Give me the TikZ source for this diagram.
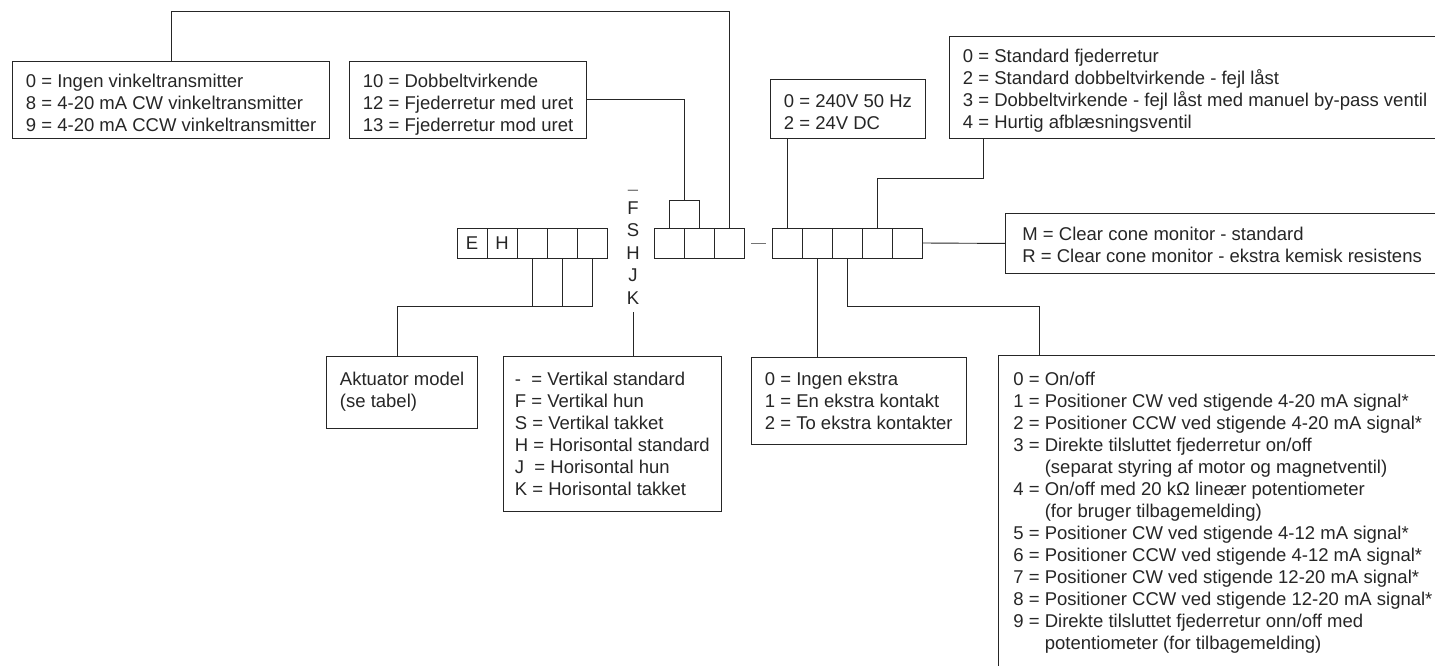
\documentclass[tikz,border=0pt]{standalone}
\usepackage{fontspec}
\setmainfont{Liberation Sans}
\usepackage{tikz}
\usetikzlibrary{calc,positioning}
\newcommand{\optindent}{\hphantom{0 = }}

\begin{document}
\begin{tikzpicture}[x=1pt,y=-1pt,font=\fontsize{18.5}{22}\selectfont,text=black!85]

\tikzset{cellnode/.style={draw=black!85,line width=0.9pt,minimum size=30pt,inner sep=0pt,outer sep=0pt},
boxnode/.style={draw=black!85,line width=0.9pt,anchor=north west,align=left,inner xsep=13.5pt,inner ysep=0pt},
letternode/.style={inner sep=0pt},
link/.style={draw=black!85,line width=0.9pt}}

\path[use as bounding box,clip] (0,0) rectangle (1435,666);

% code cells
\node[cellnode] (m1) at (472,243) {E};
\node[cellnode,right=0pt of m1] (m2) {H};
\foreach \i/\j in {2/3,3/4,4/5} \node[cellnode,right=0pt of m\i] (m\j) {};
\node[cellnode] (c1) at (669,243) {};
\foreach \i/\j in {1/2,2/3} \node[cellnode,right=0pt of c\i] (c\j) {};
\node[cellnode] (o1) at (787,243) {};
\foreach \i/\j in {1/2,2/3,3/4,4/5} \node[cellnode,right=0pt of o\i] (o\j) {};

% mounting letters
\node[letternode,text=black!55] (dashl) at (633,193) {--};
\foreach \ltr [count=\i] in {F,S,H,J,K} \node[letternode] (l\i) at (633,{208+22.5*(\i-1)}) {\ltr};

% option boxes, top row
\node[boxnode,text height=69.6pt,text depth=7.4pt] (angleBox) at (12,61) {0 = Ingen vinkeltransmitter\\8 = 4-20 mA CW vinkeltransmitter\\9 = 4-20 mA CCW vinkeltransmitter};
\node[boxnode,text height=69.6pt,text depth=7.4pt] (actBox) at (349,61) {10 = Dobbeltvirkende\\12 = Fjederretur med uret\\13 = Fjederretur mod uret};
\node[boxnode,text height=49.6pt,text depth=9.4pt] (voltBox) at (770,79) {0 = 240V 50 Hz\\2 = 24V DC};
\node[boxnode,text height=91.6pt,text depth=10.4pt] (failBox) at (949,36) {0 = Standard fjederretur\\2 = Standard dobbeltvirkende - fejl låst\\3 = Dobbeltvirkende - fejl låst med manuel by-pass ventil\\4 = Hurtig afblæsningsventil};
\node[boxnode,inner xsep=17pt,text height=48.6pt,text depth=11.4pt] (monBox) at (1005,213) {M = Clear cone monitor - standard\\R = Clear cone monitor - ekstra kemisk resistens};

% option boxes, bottom row
\node[boxnode,text height=50.6pt,text depth=21.4pt] (aktBox) at (326,356) {Aktuator model\\(se tabel)};
\node[boxnode,inner xsep=11.5pt,text height=138.6pt,text depth=16.4pt] (mountBox) at (503,356) {-\ \ = Vertikal standard\\F = Vertikal hun\\S = Vertikal takket\\H = Horisontal standard\\J\ \ = Horisontal hun\\K = Horisontal takket};
\node[boxnode,text height=71.6pt,text depth=15.4pt] (extraBox) at (751,357) {0 = Ingen ekstra\\1 = En ekstra kontakt\\2 = To ekstra kontakter};
\node[boxnode,inner xsep=15pt,text height=293.6pt,text depth=66pt] (ctrlBox) at (998,355) {0 = On/off\\1 = Positioner CW ved stigende 4-20 mA signal*\\2 = Positioner CCW ved stigende 4-20 mA signal*\\3 = Direkte tilsluttet fjederretur on/off\\\optindent(separat styring af motor og magnetventil)\\4 = On/off med 20 kΩ lineær potentiometer\\\optindent(for bruger tilbagemelding)\\5 = Positioner CW ved stigende 4-12 mA signal*\\6 = Positioner CCW ved stigende 4-12 mA signal*\\7 = Positioner CW ved stigende 12-20 mA signal*\\8 = Positioner CCW ved stigende 12-20 mA signal*\\9 = Direkte tilsluttet fjederretur onn/off med\\\optindent potentiometer (for tilbagemelding)};

% connectors
\draw[link] (angleBox.north) -- ++(0,-49.3) -| (c3.north);
\coordinate (brk) at ($(c1.north)!0.5!(c2.north)+(0,-27.6)$);
\draw[link] (c1.north) |- (brk) -| (c2.north);
\draw[link] (actBox.east) -| (brk);
\draw[link] (o1.north) -- (o1.north |- voltBox.south);
\coordinate (failtap) at ($(failBox.south west)+(34,0)$);
\draw[link] (failtap) -- ++(0,39.7) -| (o4.north);
\draw[link] (o5.east) -- (monBox.west);
\coordinate (ctrltap) at ($(ctrlBox.north west)+(41,0)$);
\draw[link] (o3.south) -- ++(0,48.4) -| (ctrltap);
\draw[link] (o2.south) -- (o2.south |- extraBox.north);
\coordinate (mjoin) at ($(m5.south)+(0,48.4)$);
\draw[link] (m3.south) -- (m3.south |- mjoin);
\draw[link] (m4.south) -- (m4.south |- mjoin);
\draw[link] (m5.south) -- (mjoin) -| ([xshift=-5pt]aktBox.north);
\draw[link] ([yshift=-7.5pt]l5.south) -- (l5.south |- mountBox.north);
\draw[link,draw=black!55] ([xshift=7pt]c3.east) -- ([xshift=22pt]c3.east);

\end{tikzpicture}
\end{document}
